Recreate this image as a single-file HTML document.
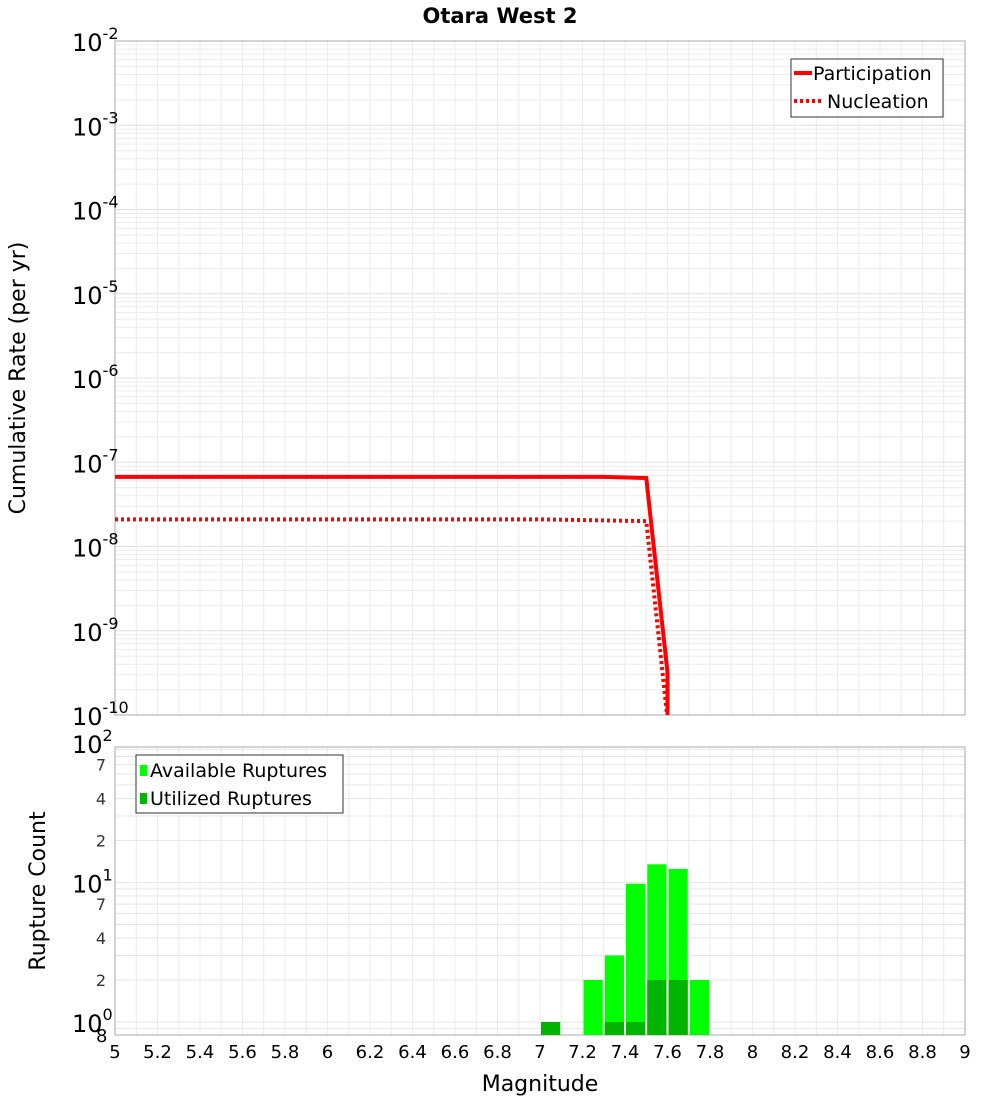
<!DOCTYPE html>
<html><head><meta charset="utf-8"><style>
body{margin:0;background:#fff;font-family:"Liberation Sans","DejaVu Sans",sans-serif}
</style></head><body>
<svg id="c" width="1000" height="1100" xmlns="http://www.w3.org/2000/svg" font-family="DejaVu Sans, Liberation Sans, sans-serif">
<text x="500" y="23" text-anchor="middle" font-size="21" font-weight="bold">Otara West 2</text>
<g id="topplot"></g>
<g id="botplot"></g>
<text transform="translate(25,378) rotate(-90)" text-anchor="middle" font-size="22">Cumulative Rate (per yr)</text>
<text transform="translate(45,891) rotate(-90)" text-anchor="middle" font-size="22">Rupture Count</text>
<text x="540" y="1091" text-anchor="middle" font-size="22">Magnitude</text>
</svg>
<script>
const partMags=[5,7.3,7.5,7.6,7.6];
const partRates=[6.7e-8,6.7e-8,6.5e-8,3.2e-10,1e-12];
const nuclMags=[5,7.0,7.5,7.6];
const nuclRates=[2.1e-8,2.1e-8,2.0e-8,9e-11];
const binCenters=[7.05,7.25,7.35,7.45,7.55,7.65,7.75];
const availCounts=[0,2,3,9.8,13.5,12.5,2];
const usedCounts=[1,0,1,1,2,2,0];
const xTicks=[5,5.2,5.4,5.6,5.8,6,6.2,6.4,6.6,6.8,7,7.2,7.4,7.6,7.8,8,8.2,8.4,8.6,8.8,9];
const topExps=[-2,-3,-4,-5,-6,-7,-8,-9,-10];

const NS="http://www.w3.org/2000/svg";
const L=115,R=965;
const T1=41,B1=715,T2=747,B2=1035;
const xs=m=>L+(m-5)/4*(R-L);
const y1=v=>T1+(-2-Math.log10(v))*(B1-T1)/8;
const y2=v=>1022-Math.log10(v)*139.5;
function mk(p,tag,a){const e=document.createElementNS(NS,tag);for(const k in a)e.setAttribute(k,a[k]);p.appendChild(e);return e;}
const topG=document.getElementById('topplot'),botG=document.getElementById('botplot');
function sup(t,base,e){const a=document.createElementNS(NS,'tspan');a.textContent=base;t.appendChild(a);
 const b=document.createElementNS(NS,'tspan');b.setAttribute('dy','-12');b.setAttribute('font-size','16');b.textContent=String(e);t.appendChild(b);}

for(let e=-10;e<-2;e++)for(let k=1;k<10;k++){const yy=y1(k*Math.pow(10,e));
 const g=mk(topG,'line',{x1:L,x2:R,y1:yy,y2:yy,stroke:k==1?'#e0e0e0':'#ececec','stroke-width':1});
 
 }
for(let i=0;i<=40;i++){const xx=xs(5+i*0.1);
 const g=mk(topG,'line',{x1:xx,x2:xx,y1:T1,y2:B1,stroke:'#ececec','stroke-width':1});
 
 
 const g2=mk(botG,'line',{x1:xx,x2:xx,y1:T2,y2:B2,stroke:'#ececec','stroke-width':1});
 
 }
const f1=mk(topG,'rect',{x:L,y:T1,width:R-L,height:B1-T1,fill:'none',stroke:'#aaa'});


topExps.forEach(e=>{const yy=y1(Math.pow(10,e));
 const t=mk(topG,'text',{x:72,y:yy+10,'font-size':24});
 
 
 sup(t,'10',e);});

function clipY(v){return Math.min(B1+5,y1(Math.max(v,1e-12)));}
const cp=mk(topG,'clipPath',{id:'cl'});mk(cp,'rect',{x:L,y:T1,width:R-L,height:B1-T1});
const pl=mk(topG,'polyline',{points:partMags.map((m,i)=>xs(m)+','+clipY(partRates[i])).join(' '),fill:'none',stroke:'#f00','stroke-width':4,'clip-path':'url(#cl)'});


const nl=mk(topG,'polyline',{points:nuclMags.map((m,i)=>xs(m)+','+clipY(nuclRates[i])).join(' '),fill:'none',stroke:'#f00','stroke-width':4,'stroke-dasharray':'3,3','clip-path':'url(#cl)'});


const lg=mk(topG,'g',{});


mk(lg,'rect',{x:791,y:59,width:152,height:58,fill:'#fff',stroke:'#333'});
mk(lg,'line',{x1:794,x2:812,y1:73,y2:73,stroke:'#f00','stroke-width':4});
mk(lg,'line',{x1:794,x2:822,y1:101,y2:101,stroke:'#f00','stroke-width':4,'stroke-dasharray':'3,3'});
let t=mk(lg,'text',{x:813,y:80,'font-size':19});t.textContent='Participation';
t=mk(lg,'text',{x:827,y:108,'font-size':19});t.textContent='Nucleation';

for(let e=-1;e<2;e++)for(let k=1;k<10;k++){const yy=y2(k*Math.pow(10,e));if(yy<T2||yy>B2)continue;
 const g=mk(botG,'line',{x1:L,x2:R,y1:yy,y2:yy,stroke:'#e6e6e6','stroke-width':1});
 
 }
const f2=mk(botG,'rect',{x:L,y:T2,width:R-L,height:B2-T2,fill:'none',stroke:'#aaa'});


const bw=xs(5.1)-xs(5)-2;
binCenters.forEach((c,i)=>{
 if(availCounts[i]>0){const r=mk(botG,'rect',{x:xs(c)-bw/2,y:y2(availCounts[i]),width:bw,height:B2-y2(availCounts[i]),fill:'#00ff00'});
  
  }
 if(usedCounts[i]>0){const r=mk(botG,'rect',{x:xs(c)-bw/2,y:y2(usedCounts[i]),width:bw,height:B2-y2(usedCounts[i]),fill:'#00b400'});
  
  }
});
[[100,2],[10,1],[1,0]].forEach(([v,e])=>{const t=mk(botG,'text',{x:72,y:y2(v)+10,'font-size':24});
 
 
 sup(t,'10',e);});
[70,40,20,7,4,2].forEach(v=>{const t=mk(botG,'text',{x:106,y:y2(v)+6,'font-size':16,'text-anchor':'end',fill:'#333'});
 
 
 t.textContent=String(v).charAt(0);});
t=mk(botG,'text',{x:96,y:1042,'font-size':18});t.textContent='8';
xTicks.forEach(m=>{const t=mk(botG,'text',{x:xs(m),y:1058,'font-size':18,'text-anchor':'middle'});
 
 
 t.textContent=String(m);});
const lg2=mk(botG,'g',{});


mk(lg2,'rect',{x:136,y:755,width:207,height:58,fill:'#fff',stroke:'#333'});
mk(lg2,'rect',{x:140,y:765,width:7,height:11,fill:'#00ff00'});
mk(lg2,'rect',{x:140,y:793,width:7,height:11,fill:'#00b400'});
t=mk(lg2,'text',{x:150,y:777,'font-size':19});t.textContent='Available Ruptures';
t=mk(lg2,'text',{x:150,y:805,'font-size':19});t.textContent='Utilized Ruptures';
</script>
</body></html>
